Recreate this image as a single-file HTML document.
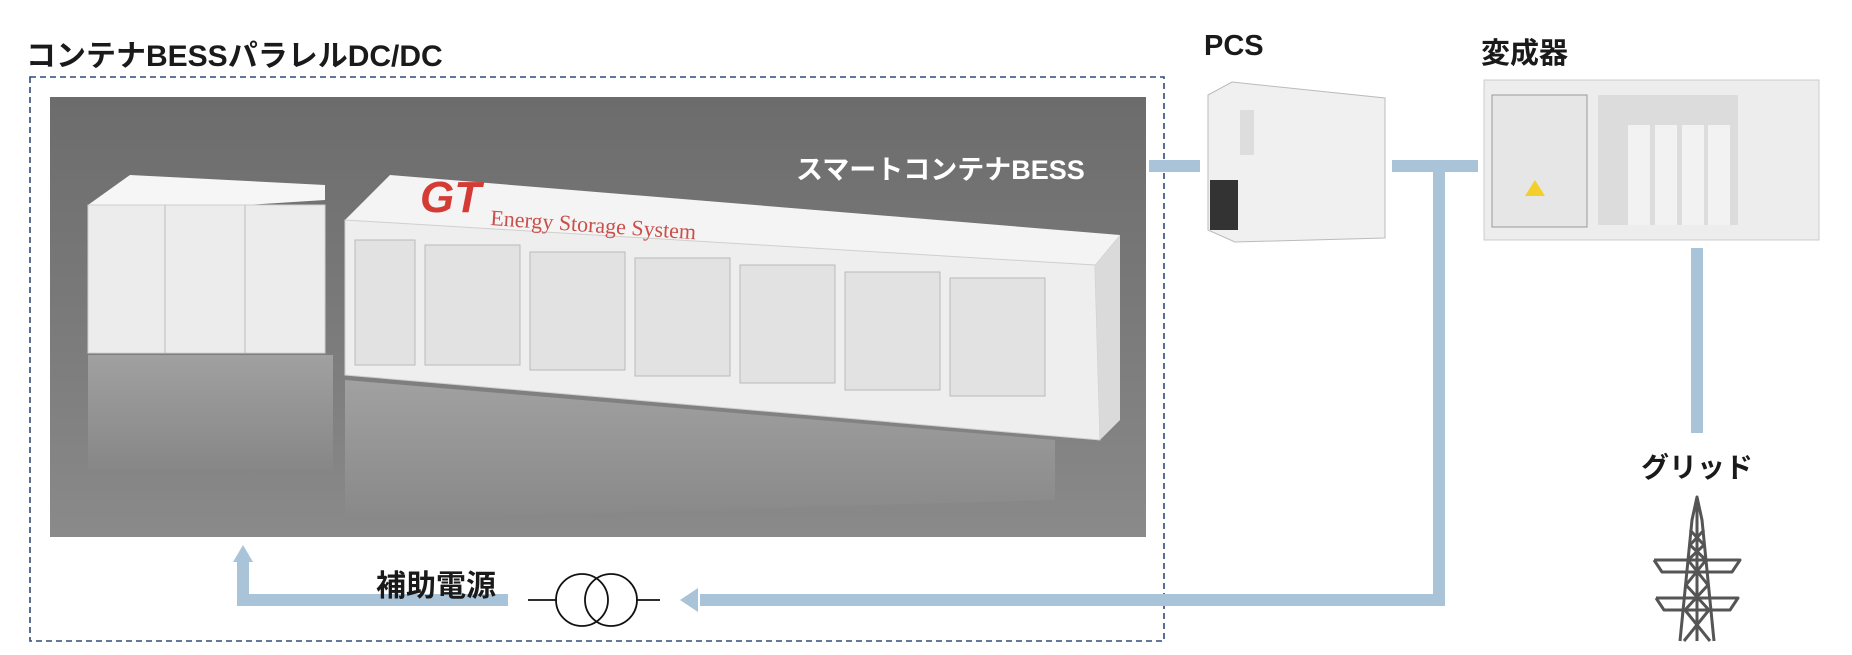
<!DOCTYPE html>
<html><head><meta charset="utf-8"><style>
html,body{margin:0;padding:0;background:#fff;}
body{width:1852px;height:655px;position:relative;overflow:hidden;font-family:"Liberation Sans","Noto Sans CJK JP",sans-serif;}
.t{position:absolute;font-weight:bold;color:#1a1a1a;white-space:nowrap;}
</style></head><body>
<svg width="1852" height="655" style="position:absolute;left:0;top:0">
<defs>
<linearGradient id="bg" x1="0" y1="0" x2="0" y2="1">
<stop offset="0" stop-color="#6c6c6c"/><stop offset="0.5" stop-color="#7a7a7a"/><stop offset="1" stop-color="#8a8a8a"/>
</linearGradient>
<linearGradient id="refl" x1="0" y1="0" x2="0" y2="1">
<stop offset="0" stop-color="#b8b8b8"/><stop offset="1" stop-color="#888"/>
</linearGradient>
</defs>
<rect x="30" y="77" width="1134" height="564" fill="none" stroke="#2e4a7a" stroke-width="1.6" stroke-dasharray="6,4"/>
<rect x="50" y="97" width="1096" height="440" fill="url(#bg)"/>
<rect x="88" y="355" width="245" height="115" fill="url(#refl)" opacity="0.6"/>
<polygon points="345,380 1055,440 1055,500 345,520" fill="url(#refl)" opacity="0.6"/>
<!-- small modules -->
<polygon points="88,205 130,175 325,185 325,200 88,215" fill="#f6f6f6"/>
<rect x="88" y="205" width="237" height="148" fill="#ececec" stroke="#cfcfcf"/>
<line x1="165" y1="205" x2="165" y2="353" stroke="#bbb"/><line x1="245" y1="205" x2="245" y2="353" stroke="#bbb"/>
<!-- big container -->
<polygon points="345,220 390,175 1120,235 1095,265" fill="#f4f4f4"/>
<polygon points="345,220 1095,265 1100,440 345,375" fill="#eeeeee" stroke="#cfcfcf"/>
<polygon points="1095,265 1120,235 1120,420 1100,440" fill="#dadada"/>
<text x="420" y="212" font-family="Liberation Sans" font-weight="bold" font-style="italic" font-size="44" fill="#d43b34">GT</text>
<text x="490" y="225" font-family="Liberation Serif" font-size="22" fill="#c9504a" transform="rotate(4 490 225)">Energy   Storage   System</text>
<g stroke="#b9b9b9" fill="#e2e2e2">
<rect x="425" y="245" width="95" height="120"/><rect x="530" y="252" width="95" height="118"/>
<rect x="635" y="258" width="95" height="118"/><rect x="740" y="265" width="95" height="118"/>
<rect x="845" y="272" width="95" height="118"/><rect x="950" y="278" width="95" height="118"/>
<rect x="355" y="240" width="60" height="125"/>
</g>
<!-- PCS -->
<polygon points="1208,95 1232,82 1385,98 1385,238 1235,242 1208,230" fill="#f0f0f0" stroke="#bbb"/>
<rect x="1210" y="180" width="28" height="50" fill="#333"/>
<rect x="1240" y="110" width="14" height="45" fill="#ddd"/>
<!-- transformer -->
<rect x="1484" y="80" width="335" height="160" fill="#ededed" stroke="#ccc"/>
<rect x="1492" y="95" width="95" height="132" fill="#e6e6e6" stroke="#999"/>
<rect x="1598" y="95" width="140" height="130" fill="#dcdcdc"/>
<rect x="1628" y="125" width="22" height="100" fill="#f2f2f2"/><rect x="1655" y="125" width="22" height="100" fill="#f2f2f2"/><rect x="1682" y="125" width="22" height="100" fill="#f2f2f2"/><rect x="1708" y="125" width="22" height="100" fill="#f2f2f2"/>
<polygon points="1535,180 1525,196 1545,196" fill="#f3cf2c"/>
<!-- blue lines -->
<g stroke="#a9c4d8" stroke-width="12" fill="none">
<line x1="1149" y1="166" x2="1200" y2="166"/>
<polyline points="1392,166 1478,166"/>
<polyline points="1439,166 1439,600 700,600"/>
<line x1="1697" y1="248" x2="1697" y2="433"/>
<polyline points="508,600 243,600 243,560"/>
</g>
<polygon points="680,600 698,588 698,612" fill="#a9c4d8"/>
<polygon points="243,545 233,562 253,562" fill="#a9c4d8"/>
<g stroke="#111" stroke-width="1.8" fill="none">
<line x1="528" y1="600" x2="557" y2="600"/><line x1="636" y1="600" x2="660" y2="600"/>
<circle cx="582" cy="600" r="26"/><circle cx="611" cy="600" r="26"/>
</g>
<!-- tower -->
<g stroke="#555" stroke-width="3" fill="none" stroke-linejoin="round">
<polyline points="1680,641 1692,520 1697,497 1702,520 1714,641"/>
<polyline points="1654,560 1740,560 1732,572 1662,572 1654,560"/>
<polyline points="1656,598 1738,598 1730,610 1664,610 1656,598"/>
<line x1="1697" y1="497" x2="1697" y2="641"/>
<polyline points="1690,530 1704,545 1688,560 1708,585 1685,610 1710,641"/>
<polyline points="1704,530 1690,545 1706,560 1686,585 1709,610 1684,641"/>
</g>
</svg>
<div class="t" style="left:26px;top:31px;font-size:30px;">コンテナBESSパラレルDC/DC</div>
<div class="t" style="left:1204px;top:30px;font-size:29px;">PCS</div>
<div class="t" style="left:1481px;top:30px;font-size:29px;">変成器</div>
<div class="t" style="left:796px;top:148px;font-size:27px;color:#fff;">スマートコンテナBESS</div>
<div class="t" style="left:1641px;top:446px;font-size:28px;">グリッド</div>
<div class="t" style="left:376px;top:561px;font-size:30px;">補助電源</div>
</body></html>
